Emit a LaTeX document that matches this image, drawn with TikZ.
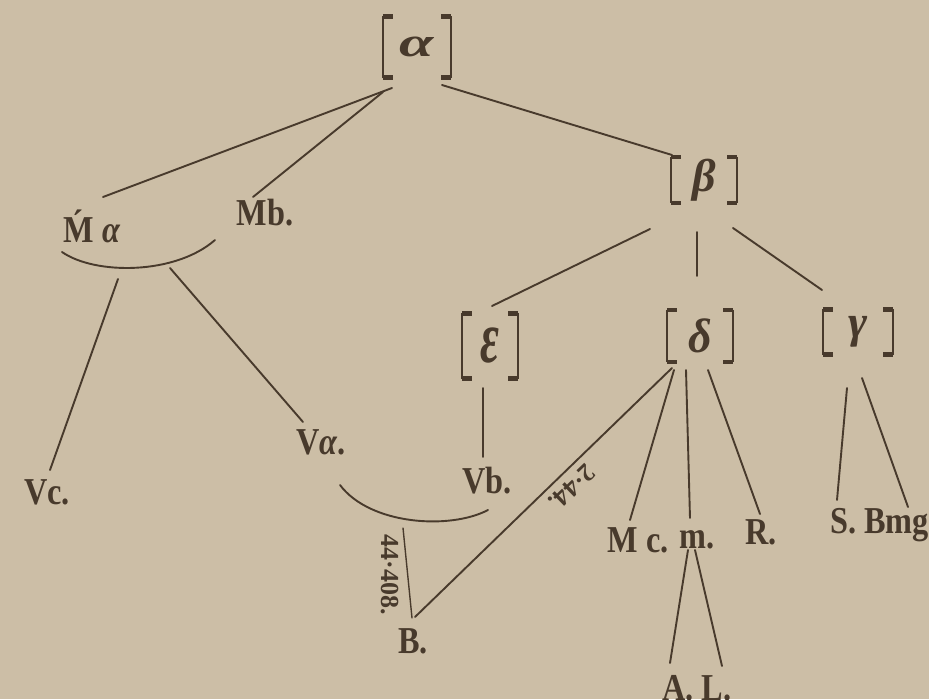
\documentclass[tikz,border=0pt]{standalone}
\usepackage{graphicx}
\usepackage{fontspec}
\setmainfont{Liberation Serif}
\newfontfamily\lblfont[FakeStretch=0.85]{Liberation Serif}
\definecolor{bgc}{RGB}{204,190,166}
\definecolor{inkc}{RGB}{72,58,44}
\newcommand{\grkbig}[3]{\scalebox{#1}[#2]{#3}}
\begin{document}
\begin{tikzpicture}[x=1pt,y=-1pt,
  ink/.style={draw=inkc, line width=1.9pt, line cap=round},
  lbl/.style={text=inkc, font=\lblfont\bfseries\fontsize{38}{40}\selectfont, inner sep=0pt},
  grk/.style={text=inkc, inner sep=0pt, font=\bfseries\itshape\fontsize{46}{48}\selectfont},
  tiny/.style={text=inkc, font=\bfseries\fontsize{26}{28}\selectfont, inner sep=0pt},
  brkv/.style={draw=inkc, line width=2.2pt},
  brks/.style={draw=inkc, line width=4.5pt},
]
\useasboundingbox (0,0) rectangle (929,699);
\fill[bgc] (0,0) rectangle (929,699);

% bracketed nodes
\node[grk, minimum width=67pt, minimum height=61pt] (alpha) at (417,47) {\grkbig{1.35}{0.9}{α}};
\node[grk, minimum width=65pt, minimum height=46pt] (beta) at (704,180) {\grkbig{1}{1}{β}};
\node[grk, minimum width=55pt, minimum height=65pt] (eps) at (490,346) {\grkbig{1}{1.6}{ε}};
\node[grk, minimum width=65pt, minimum height=52pt] (delta) at (700,336) {\grkbig{1}{1.05}{δ}};
\node[grk, minimum width=69pt, minimum height=45pt] (gamma) at (858,332) {\grkbig{1}{1}{γ}};

\foreach \n in {alpha,beta,eps,delta,gamma}{
  \draw[brkv] (\n.north west) -- (\n.south west);
  \draw[brkv] (\n.north east) -- (\n.south east);
  \draw[brks] (\n.north west) -- ++(10,0);
  \draw[brks] (\n.south west) -- ++(10,0);
  \draw[brks] (\n.north east) -- ++(-10,0);
  \draw[brks] (\n.south east) -- ++(-10,0);
}

% labels
\node[lbl] (Ma) at (92,226) {\'M {\itshape α}};
\node[lbl] (Mb) at (265,213) {Mb.};
\node[lbl] (Vc) at (47,492) {Vc.};
\node[lbl] (Va) at (321,442) {V{\itshape α}.};
\node[lbl] (Vb) at (487,481) {Vb.};
\node[lbl] (B) at (413,641) {B.};
\node[lbl] (Mc) at (638,540) {M c.};
\node[lbl] (m) at (697,540) {m.};
\node[lbl] (R) at (761,532) {R.};
\node[lbl, anchor=west] (SB) at (830,525) {S. Bmg};
\node[lbl] (AL) at (697,688) {A. L.};

% arcs (named points)
\coordinate (arcMl) at ([shift={(-30,26)}]Ma.center);
\coordinate (arcMr) at ([shift={(123,14)}]Ma.center);
\coordinate (arcMc) at ([shift={(26,53)}]Ma.center);
\coordinate (arcMd) at ([shift={(78,42)}]Ma.center);
\coordinate (arcVl) at ([shift={(19,43)}]Va.center);
\coordinate (arcVr) at ([shift={(1,29)}]Vb.center);

\draw[ink] (arcMl) .. controls ([shift={(33,23)}]arcMl) and ([shift={(-40,35)}]arcMr) .. (arcMr);
\draw[ink] (arcVl) .. controls ([shift={(30,40)}]arcVl) and ([shift={(-38,20)}]arcVr) .. (arcVr);

% connectors
\draw[ink] ([shift={(-25,41)}]alpha.center) -- ([shift={(11,-29)}]Ma.center);
\draw[ink] ([shift={(-34,45)}]alpha.center) -- ([shift={(-12,-16)}]Mb.center);
\draw[ink] ([shift={(25,38)}]alpha.center) -- ([shift={(-32,-25)}]beta.center);
\draw[ink] ([shift={(-54,49)}]beta.center) -- ([shift={(2,-40)}]eps.center);
\draw[ink] ([shift={(-7,52)}]beta.center) -- ([shift={(-3,-60)}]delta.center);
\draw[ink] ([shift={(29,48)}]beta.center) -- ([shift={(-36,-42)}]gamma.center);
\draw[ink] ([shift={(-7,42)}]eps.center) -- ([shift={(-4,-24)}]Vb.center);
\draw[ink] (arcMc) -- ([shift={(3,-22)}]Vc.center);
\draw[ink] (arcMd) -- ([shift={(-18,-20)}]Va.center);
\draw[ink] ([shift={(-28,32)}]delta.center) -- ([shift={(2,-24)}]B.center);
\node[tiny, rotate=224] (lblD) at (572,487) {2·44.};
\draw[ink, line width=1.4pt] ([shift={(-10,-113)}]B.center) -- ([shift={(-1,-23)}]B.center);
\node[tiny, rotate=-90] (lblB) at (390,575) {44·408.};
\draw[ink] ([shift={(-26,34)}]delta.center) -- ([shift={(-8,-20)}]Mc.center);
\draw[ink] ([shift={(-14,34)}]delta.center) -- ([shift={(-7,-22)}]m.center);
\draw[ink] ([shift={(8,34)}]delta.center) -- ([shift={(-1,-18)}]R.center);
\draw[ink] ([shift={(-9,10)}]m.center) -- ([shift={(-27,-25)}]AL.center);
\draw[ink] ([shift={(-2,10)}]m.center) -- ([shift={(25,-22)}]AL.center);
\draw[ink] ([shift={(-11,56)}]gamma.center) -- ([shift={(7,-25)}]SB.west);
\draw[ink] ([shift={(4,46)}]gamma.center) -- ([shift={(78,-18)}]SB.west);
\end{tikzpicture}
\end{document}
